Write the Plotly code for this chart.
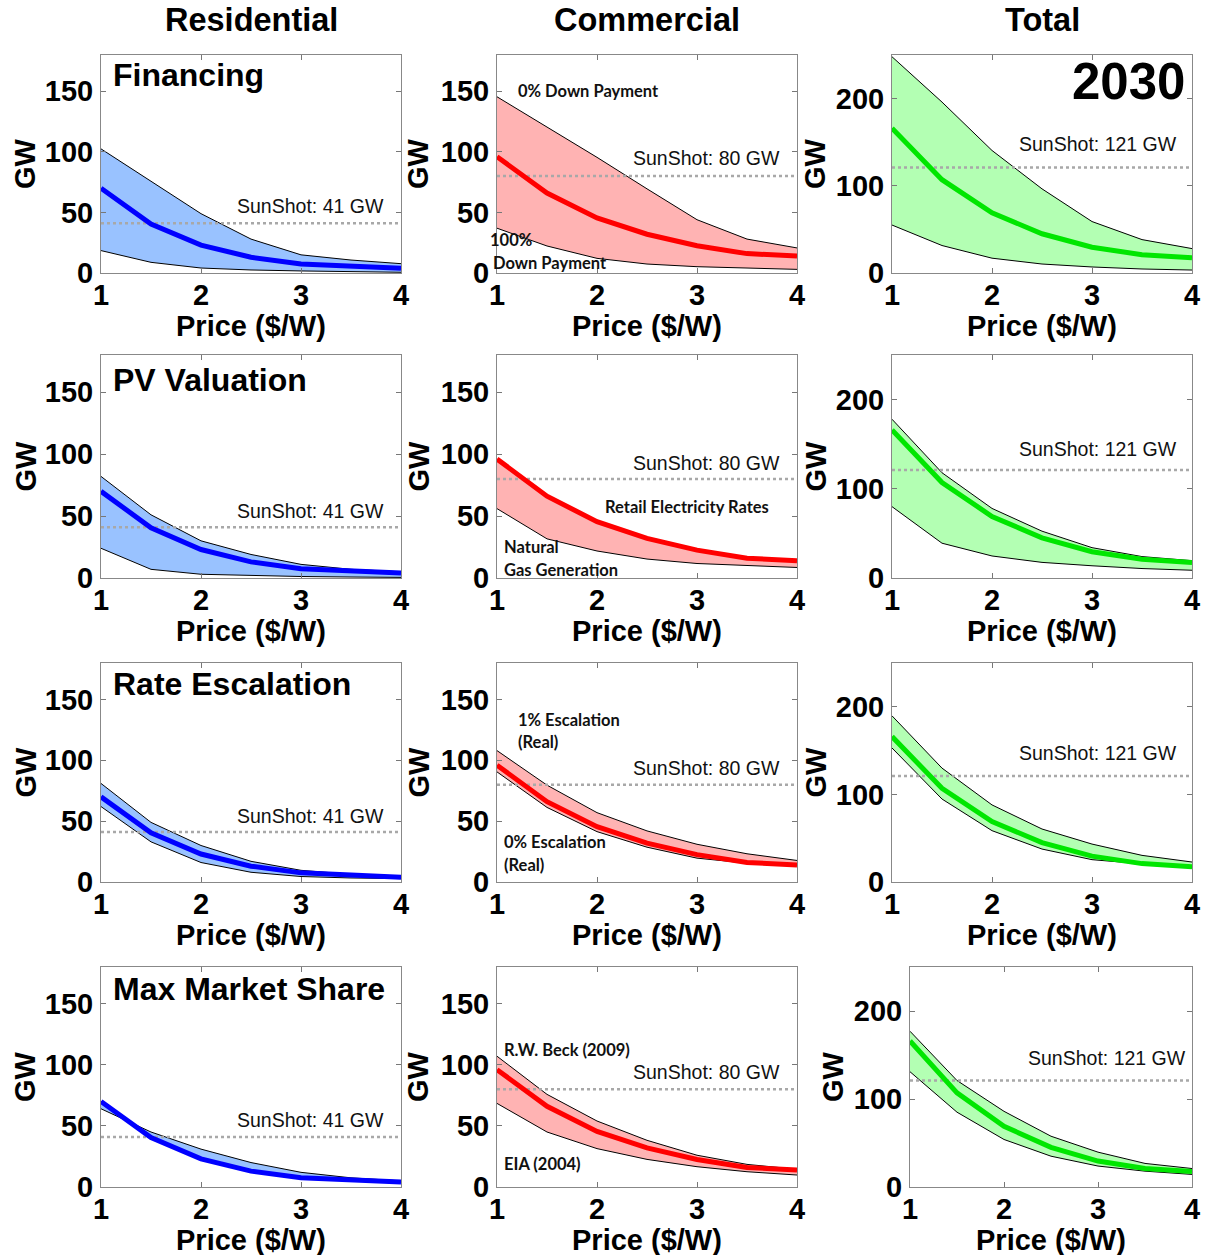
import plotly.graph_objects as go

W, H = 1205, 1255

# Installed PV capacity (GW) versus system price ($/W)
price = [1, 1.5, 2, 2.5, 3, 3.5, 4]

res_center = [70, 40.5, 23, 13, 7.5, 5.5, 4]
com_center = [96, 66, 45.5, 32, 22.5, 16, 14]
tot_center = [166, 107, 69, 45, 29.5, 21, 17.5]

# Financing
res_fin_low = [18.5, 8.8, 4.1, 2.5, 1.7, 1.1, 0.6]
res_fin_high = [102.5, 75.5, 49, 28, 15, 10.7, 7.7]
com_fin_low = [37, 22.3, 12.1, 7.4, 5.2, 4.1, 3.0]
com_fin_high = [145.5, 120.5, 95.5, 69.5, 44, 28, 20.7]
tot_fin_low = [55, 31.5, 17, 10.3, 6.9, 4.6, 3.4]
tot_fin_high = [248, 196, 140.5, 96.5, 59, 38.3, 28]

# PV valuation
res_val_low = [24, 7, 3, 2, 1.2, 0.8, 0.5]
res_val_high = [82, 51, 30, 19, 11, 7, 5]
com_val_low = [56, 31.6, 21.8, 15.3, 11.7, 9.8, 8.5]
com_val_high = [96, 66, 45.5, 32, 22.5, 16, 14]
tot_val_low = [80, 39, 24.7, 17.5, 13.7, 10.6, 8.7]
tot_val_high = [178, 118, 78, 52.5, 34, 24, 19.4]

# Rate escalation
res_esc_low = [62, 33, 16, 8, 4.5, 3.3, 2.8]
res_esc_high = [81, 49, 30, 17, 9.6, 6.3, 4.2]
com_esc_low = [90.5, 61.3, 41.4, 28.6, 19.6, 15.5, 13.4]
com_esc_high = [108, 79.6, 57, 42, 31, 23.2, 17.7]
tot_esc_low = [153, 94.7, 58.6, 37.6, 25.5, 21, 16]
tot_esc_high = [189.7, 130, 88, 60.5, 43.3, 30.4, 22.8]

# Max market share
res_mms_a = [64, 45, 31, 20, 12, 7.5, 5]
res_mms_b = [70, 40.5, 23, 13, 7.5, 5.5, 4]
com_mms_low = [68.4, 45, 31.4, 22.6, 16.6, 12.5, 9.8]
com_mms_high = [107, 75.8, 54, 38.2, 26, 18.5, 14.5]
tot_mms_low = [131, 85, 54, 35, 23.8, 18, 14.3]
tot_mms_high = [177, 121, 86, 57.7, 39.6, 26.8, 21]

sunshot = [41, 80, 121]
sectors = ["Residential", "Commercial", "Total"]
sensitivities = ["Financing", "PV Valuation", "Rate Escalation", "Max Market Share"]

bands = [
    [(res_fin_low, res_fin_high), (com_fin_low, com_fin_high), (tot_fin_low, tot_fin_high)],
    [(res_val_low, res_val_high), (com_val_low, com_val_high), (tot_val_low, tot_val_high)],
    [(res_esc_low, res_esc_high), (com_esc_low, com_esc_high), (tot_esc_low, tot_esc_high)],
    [(res_mms_a, res_mms_b), (com_mms_low, com_mms_high), (tot_mms_low, tot_mms_high)],
]
centers = [res_center, com_center, tot_center]
line_colors = ["#0000FF", "#FF0000", "#00E600"]
fill_colors = ["#99C2FF", "#FFB3B3", "#B3FFB3"]
y_ranges = [[0, 180], [0, 180], [0, 250]]
y_ticks = [[0, 50, 100, 150], [0, 50, 100, 150], [0, 100, 200]]

# panel frames in pixels
col_px = [(101, 401), (497, 797), (892, 1192)]
row_px = [(55, 273), (355, 578), (663, 882), (967, 1187)]

BOLD = dict(family="Liberation Sans, Arial, sans-serif", color="black", weight="bold")


def px(x):
    return x / W


def py(y):
    return 1 - y / H


fig = go.Figure()
layout = {}

for r in range(4):
    for c in range(3):
        k = r * 3 + c + 1
        xs = "" if k == 1 else str(k)
        x0, x1 = col_px[c]
        if r == 3 and c == 2:
            x0 = 910
        y0, y1 = row_px[r]
        layout["xaxis" + xs] = dict(
            domain=[px(x0), px(x1)], anchor="y" + xs, range=[1, 4],
            tickvals=[1, 2, 3, 4], ticks="inside", ticklen=5, tickcolor="#777",
            showline=True, linecolor="#888", linewidth=1, mirror="allticks",
            showgrid=False, zeroline=False, automargin=False,
            tickfont=dict(size=29, **BOLD), ticklabelstandoff=-4,
        )
        layout["yaxis" + xs] = dict(
            domain=[py(y1), py(y0)], anchor="x" + xs, range=y_ranges[c],
            tickvals=y_ticks[c], ticks="inside", ticklen=5, tickcolor="#777",
            showline=True, linecolor="#888", linewidth=1, mirror="allticks",
            showgrid=False, zeroline=False, automargin=False,
            tickfont=dict(size=29, **BOLD), ticklabelstandoff=1,
        )
        lo, hi = bands[r][c]
        fig.add_trace(go.Scatter(
            x=price, y=lo, mode="lines", line=dict(color="black", width=1),
            xaxis="x" + xs, yaxis="y" + xs, showlegend=False, hoverinfo="skip"))
        fig.add_trace(go.Scatter(
            x=price, y=hi, mode="lines", line=dict(color="black", width=1),
            fill="tonexty", fillcolor=fill_colors[c],
            xaxis="x" + xs, yaxis="y" + xs, showlegend=False, hoverinfo="skip"))
        fig.add_trace(go.Scatter(
            x=[price[0], price[-1]], y=[sunshot[c], sunshot[c]], mode="lines",
            line=dict(color="#A8A8A8", width=2.5, dash="dot"),
            xaxis="x" + xs, yaxis="y" + xs, showlegend=False, hoverinfo="skip"))
        fig.add_trace(go.Scatter(
            x=price, y=centers[c], mode="lines",
            line=dict(color=line_colors[c], width=5),
            xaxis="x" + xs, yaxis="y" + xs, showlegend=False, hoverinfo="skip"))

annotations = []


def text(x, y, s, size, font=None, xanchor="left", yanchor="middle", angle=0):
    f = dict(size=size, **(font or BOLD))
    annotations.append(dict(
        x=px(x), y=py(y), xref="paper", yref="paper", text=s, showarrow=False,
        xanchor=xanchor, yanchor=yanchor, font=f, textangle=angle))


# column headers
for name, xc in zip(sectors, [251, 647, 1042]):
    text(xc, 20, name, 32.5, xanchor="center")

# sensitivity titles
for name, yc in zip(sensitivities, [75, 380, 684, 989]):
    text(111, yc, name, 32)

text(1187, 82, "2030", 51, xanchor="right")

# axis titles
for r in range(4):
    y0, y1 = row_px[r]
    for c in range(3):
        x0, x1 = col_px[c]
        if r == 3 and c == 2:
            x0 = 910
        gw_x = [25, 418, 815][c] if not (r == 3 and c == 2) else 833
        text(gw_x, (y0 + y1) / 2, "GW", 29, xanchor="center", angle=-90)
        text((x0 + x1) / 2, y1 + 53, "Price ($/W)", 29, xanchor="center")

# SunShot labels
SS = dict(family="Liberation Sans, Arial, sans-serif", color="#111")
ss_pos = [
    [(386, 206), (782, 158), (1179, 144)],
    [(386, 511), (782, 463), (1179, 449)],
    [(386, 816), (782, 768), (1179, 753)],
    [(386, 1120), (782, 1072), (1188, 1058)],
]
for r in range(4):
    for c in range(3):
        xr, yc = ss_pos[r][c]
        text(xr, yc, f"SunShot: {sunshot[c]} GW", 19.5, font=SS, xanchor="right")

# commercial scenario notes
NOTE = dict(family="Lato, Carlito, Calibri, sans-serif", color="#111", weight="bold")
notes = [
    (516, 91, "0% Down Payment"), (488, 240, "100%"), (491, 263, "Down Payment"),
    (603, 507, "Retail Electricity Rates"), (502, 547, "Natural"), (502, 570, "Gas Generation"),
    (516, 720, "1% Escalation"), (516, 742, "(Real)"),
    (502, 842, "0% Escalation"), (502, 865, "(Real)"),
    (502, 1050, "R.W. Beck (2009)"), (502, 1164, "EIA (2004)"),
]
for x, y, s in notes:
    text(x, y, s, 16.5, font=NOTE)

fig.update_layout(
    width=W, height=H, margin=dict(l=0, r=0, t=0, b=0),
    paper_bgcolor="white", plot_bgcolor="white",
    annotations=annotations, showlegend=False, **layout,
)

fig.write_html("out.html")
